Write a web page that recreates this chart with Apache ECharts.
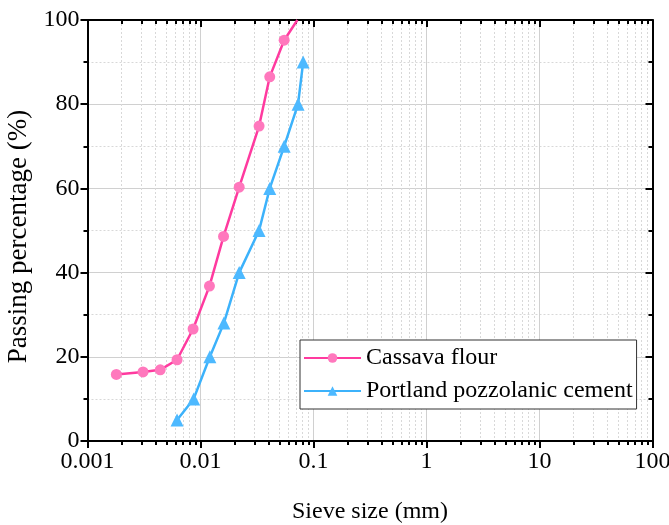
<!DOCTYPE html>
<html>
<head>
<meta charset="utf-8">
<script src="https://cdn.jsdelivr.net/npm/echarts@6/dist/echarts.min.js"></script>
<style>
  html, body { margin: 0; padding: 0; background: #fff; }
  #chart { width: 669px; height: 525px; }
</style>
</head>
<body>
<div id="chart"></div>
<script>
// Particle size distribution: sieve size (mm) vs passing percentage (%)
const cassavaSize = [0.0018, 0.0031, 0.0044, 0.0062, 0.0086, 0.012, 0.016, 0.022, 0.033, 0.041, 0.055, 0.072];
const cassavaPassing = [15.8, 16.4, 16.9, 19.3, 26.6, 36.8, 48.6, 60.3, 74.8, 86.5, 95.2, 100];

const cementSize = [0.0062, 0.0087, 0.0121, 0.0161, 0.022, 0.033, 0.041, 0.055, 0.073, 0.081];
const cementPassing = [5, 10, 20, 28, 40, 50, 60, 70, 80, 90];

const xTickLabels = ['0.001', '0.01', '0.1', '1', '10', '100'];
const xDecades = [-3, -2, -1, 0, 1, 2];
const minorMultipliers = [2, 3, 4, 5, 6, 7, 8, 9];

// log10 positions of the 2..9 sub-divisions of each decade
const minorLogPositions = [];
xDecades.slice(0, -1).forEach(d => {
  minorMultipliers.forEach(m => minorLogPositions.push(d + Math.log10(m)));
});

const FONT = 'Liberation Serif';
const FS = 24;
const AXIS_LINE = { show: true, onZero: false, lineStyle: { color: '#000', width: 2 } };

const majorX = (position, inside) => ({
  type: 'log', logBase: 10, min: 0.001, max: 100, position,
  axisLine: AXIS_LINE,
  axisTick: { show: true, inside, length: 7, lineStyle: { color: '#000', width: 2 } },
  axisLabel: position === 'bottom'
    ? { show: true, fontFamily: FONT, fontSize: FS, color: '#000', margin: 9,
        formatter: (v, i) => xTickLabels[i] }
    : { show: false },
  splitLine: { show: position === 'bottom', lineStyle: { color: '#d0d0d0', width: 1 } },
  minorTick: { show: false },
  name: position === 'bottom' ? 'Sieve size (mm)' : '',
  nameLocation: 'middle', nameGap: 59,
  nameTextStyle: { fontFamily: FONT, fontSize: FS, color: '#000' }
});

const minorX = (position, inside, withGrid) => ({
  type: 'value', min: -3, max: 2, position,
  axisLine: { show: false, onZero: false },
  axisLabel: { show: false },
  axisTick: { show: true, inside, length: 4, customValues: minorLogPositions,
              lineStyle: { color: '#000', width: 2 } },
  splitLine: { show: withGrid, lineStyle: { color: '#d8d8d8', width: 1, type: [2, 2] } }
});

const option = {
  backgroundColor: '#fff',
  animation: false,
  grid: { left: 87.5, right: 16.5, top: 20, bottom: 84, containLabel: false, outerBoundsMode: 'none' },
  legend: {
    orient: 'vertical', left: 300, top: 340,
    backgroundColor: '#fff', borderColor: '#333', borderWidth: 1,
    padding: [6, 4, 6, 3], itemGap: 9, itemWidth: 57, itemHeight: 12,
    textStyle: { fontFamily: FONT, fontSize: FS, color: '#000' },
    data: ['Cassava flour', 'Portland pozzolanic cement']
  },
  xAxis: [
    majorX('bottom', false),
    minorX('bottom', false, true),
    majorX('top', true),
    minorX('top', true, false)
  ],
  yAxis: [
    {
      type: 'value', min: 0, max: 100, interval: 20, position: 'left',
      axisLine: AXIS_LINE,
      axisTick: { show: true, inside: false, length: 7, lineStyle: { color: '#000', width: 2 } },
      minorTick: { show: true, splitNumber: 2, length: 4, lineStyle: { color: '#000', width: 2 } },
      axisLabel: { fontFamily: FONT, fontSize: FS, color: '#000', margin: 8 },
      splitLine: { show: true, lineStyle: { color: '#d0d0d0', width: 1 } },
      minorSplitLine: { show: true, lineStyle: { color: '#d8d8d8', width: 1, type: [2, 2] } },
      name: 'Passing percentage (%)', nameLocation: 'middle', nameGap: 49.5, nameRotate: 90,
      nameTextStyle: { fontFamily: FONT, fontSize: 27, color: '#000', padding: [0, 12, 0, 0] }
    },
    {
      type: 'value', min: 0, max: 100, interval: 20, position: 'right',
      axisLine: AXIS_LINE,
      axisTick: { show: true, inside: true, length: 7, lineStyle: { color: '#000', width: 2 } },
      minorTick: { show: true, splitNumber: 2, length: 4, lineStyle: { color: '#000', width: 2 } },
      axisLabel: { show: false },
      splitLine: { show: false }
    }
  ],
  series: [
    {
      name: 'Cassava flour', type: 'line', xAxisIndex: 0, yAxisIndex: 0,
      symbol: 'circle', symbolSize: 11, z: 3,
      lineStyle: { color: '#ff3a9f', width: 2.5 },
      itemStyle: { color: '#ff78bd' },
      data: cassavaSize.map((s, i) => (
        i === cassavaSize.length - 1
          ? { value: [s, cassavaPassing[i]], symbol: 'none' }
          : [s, cassavaPassing[i]]
      ))
    },
    {
      name: 'Portland pozzolanic cement', type: 'line', xAxisIndex: 0, yAxisIndex: 0,
      symbol: 'triangle', symbolSize: 13, z: 3,
      lineStyle: { color: '#3cb2fb', width: 2.5 },
      itemStyle: { color: '#4db9ff' },
      data: cementSize.map((s, i) => [s, cementPassing[i]])
    }
  ]
};

const chart = echarts.init(document.getElementById('chart'), null, { renderer: 'canvas' });
chart.setOption(option);
</script>
</body>
</html>
